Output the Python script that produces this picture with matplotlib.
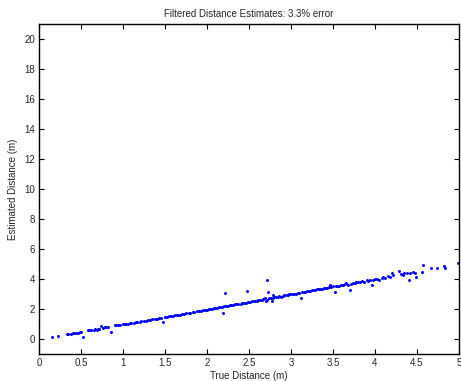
import matplotlib
matplotlib.use("Agg")
import matplotlib.pyplot as plt

plt.rcParams["font.family"] = ["Liberation Sans", "DejaVu Sans"]

# true distance (m) / estimated distance (m)
true_dist = [
    0.16, 0.23, 0.33, 0.35, 0.38, 0.40, 0.42, 0.44, 0.47, 0.49, 0.50, 0.52,
    0.58, 0.60, 0.62, 0.65, 0.67, 0.69, 0.70, 0.72, 0.74, 0.76, 0.78, 0.80,
    0.82, 0.86, 0.90, 0.92, 0.94, 0.96,
    1.00, 1.02, 1.04, 1.06, 1.08, 1.10, 1.13, 1.15, 1.17, 1.20, 1.22, 1.25,
    1.27, 1.30, 1.32, 1.35, 1.38, 1.40, 1.43, 1.45, 1.48, 1.50, 1.52, 1.55,
    1.57, 1.60, 1.62, 1.64, 1.66, 1.68, 1.70, 1.73, 1.75, 1.78, 1.80, 1.83,
    1.85, 1.88, 1.90, 1.93, 1.95, 1.98,
    2.00, 2.02, 2.04, 2.06, 2.08, 2.10, 2.12, 2.14, 2.16, 2.18, 2.19, 2.20,
    2.22, 2.23, 2.25, 2.27, 2.29, 2.31, 2.33, 2.35, 2.37, 2.40, 2.42, 2.44,
    2.46, 2.48, 2.49, 2.51, 2.53, 2.55, 2.57, 2.59, 2.61, 2.63, 2.65, 2.67,
    2.69, 2.70, 2.71, 2.72, 2.73, 2.74, 2.76, 2.77, 2.78, 2.79, 2.80, 2.82,
    2.84, 2.86, 2.88, 2.90, 2.92, 2.94, 2.96, 2.98,
    3.00, 3.02, 3.04, 3.06, 3.08, 3.10, 3.12, 3.13, 3.15, 3.17, 3.19, 3.21,
    3.23, 3.25, 3.27, 3.29, 3.31, 3.33, 3.35, 3.37, 3.39, 3.41, 3.43, 3.45,
    3.46, 3.48, 3.50, 3.52, 3.53, 3.55, 3.57, 3.60, 3.62, 3.64, 3.66, 3.68,
    3.70, 3.71, 3.74, 3.76, 3.78, 3.80, 3.82, 3.85, 3.87, 3.90, 3.92, 3.94,
    3.96, 3.98,
    4.00, 4.03, 4.05, 4.08, 4.10, 4.12, 4.15, 4.18, 4.20, 4.22, 4.29, 4.31,
    4.33, 4.35, 4.38, 4.40, 4.42, 4.45, 4.48, 4.49, 4.56, 4.57, 4.67, 4.74,
    4.82, 4.83, 4.99,
]
est_dist = [
    0.13, 0.18, 0.30, 0.35, 0.34, 0.38, 0.40, 0.41, 0.43, 0.45, 0.48, 0.15,
    0.58, 0.60, 0.59, 0.63, 0.66, 0.58, 0.68, 0.67, 0.88, 0.76, 0.77, 0.80,
    0.80, 0.48, 0.92, 0.90, 0.93, 0.95,
    0.97, 0.99, 1.00, 1.03, 1.05, 1.06, 1.08, 1.12, 1.13, 1.15, 1.18, 1.20,
    1.22, 1.27, 1.28, 1.30, 1.32, 1.36, 1.40, 1.42, 1.13, 1.46, 1.48, 1.50,
    1.53, 1.55, 1.58, 1.62, 1.60, 1.63, 1.66, 1.68, 1.70, 1.73, 1.76, 1.78,
    1.82, 1.84, 1.86, 1.88, 1.92, 1.95,
    1.96, 2.00, 1.98, 2.03, 2.05, 2.06, 2.08, 2.10, 2.13, 2.15, 1.75, 2.18,
    3.09, 2.20, 2.22, 2.25, 2.24, 2.28, 2.32, 2.30, 2.35, 2.36, 2.40, 2.38,
    2.43, 3.22, 2.45, 2.47, 2.50, 2.52, 2.50, 2.56, 2.58, 2.60, 2.57, 2.64,
    2.70, 2.55, 3.93, 2.62, 3.13, 2.72, 2.70, 2.50, 2.76, 2.90, 2.78, 2.80,
    2.82, 2.85, 2.83, 2.88, 2.92, 2.90, 2.95, 2.97,
    2.98, 3.00, 3.03, 3.02, 3.07, 3.08, 2.75, 3.10, 3.13, 3.15, 3.18, 3.20,
    3.22, 3.24, 3.26, 3.28, 3.30, 3.32, 3.35, 3.33, 3.38, 3.40, 3.42, 3.44,
    3.58, 3.47, 3.50, 3.15, 3.52, 3.55, 3.56, 3.60, 3.58, 3.65, 3.70, 3.62,
    3.27, 3.68, 3.75, 3.72, 3.80, 3.78, 3.82, 3.86, 3.80, 3.92, 3.88, 3.95,
    3.60, 3.96,
    3.98, 4.02, 3.92, 4.05, 4.10, 4.07, 4.20, 4.15, 4.40, 4.25, 4.55, 4.35,
    4.30, 4.42, 4.38, 3.93, 4.40, 4.45, 4.42, 4.11, 4.49, 4.93, 4.71, 4.71,
    4.87, 4.75, 5.09,
]

fig = plt.figure(figsize=(4.61, 3.81), dpi=100)
ax = fig.add_axes([0.0846, 0.0709, 0.911, 0.866])

ax.plot(true_dist, est_dist, linestyle="none", marker=".", markersize=2.3,
        color="blue")

ax.set_xlim(0, 5)
ax.set_ylim(-1, 21)
ax.set_xticks([0, 0.5, 1, 1.5, 2, 2.5, 3, 3.5, 4, 4.5, 5])
ax.set_xticklabels(["0", "0.5", "1", "1.5", "2", "2.5", "3", "3.5", "4", "4.5", "5"])
ax.set_yticks(range(0, 21, 2))

ax.tick_params(direction="in", top=True, right=True, length=3.5, width=0.8,
               labelsize=7, pad=3, labelcolor="#262626")
for s in ax.spines.values():
    s.set_linewidth(1.0)

ax.set_title("Filtered Distance Estimates: 3.3% error", fontsize=7, pad=5,
             color="#262626")
ax.set_xlabel("True Distance (m)", fontsize=7, labelpad=2, color="#262626")
ax.set_ylabel("Estimated Distance (m)", fontsize=7, labelpad=4, color="#262626")

fig.savefig("out.png", dpi=100)
